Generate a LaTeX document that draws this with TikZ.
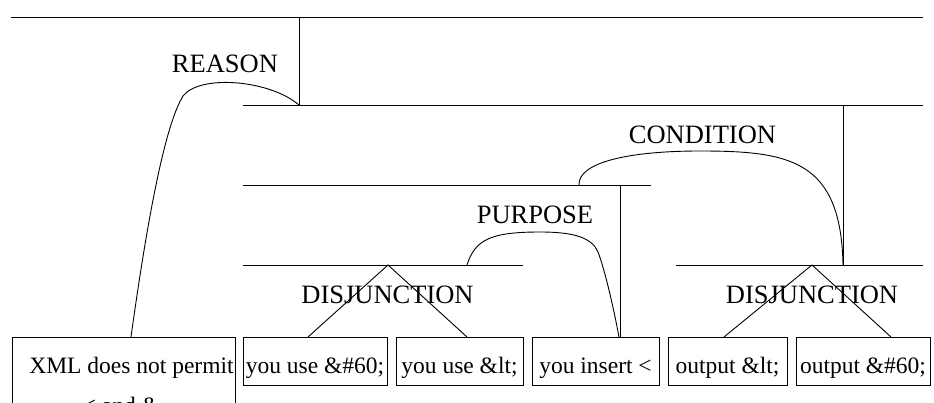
\documentclass[tikz,border=0pt]{standalone}
\usepackage{fontspec}
\setmainfont{Liberation Serif}
\begin{document}
\begin{tikzpicture}[x=1pt, y=-1pt, line width=0.9pt,
  segbox/.style={draw, line width=0.9pt, inner sep=0pt, minimum height=48pt,
    text height=36pt, text depth=12pt, font=\fontsize{23.5}{27}\selectfont},
  segtext/.style={anchor=base, inner sep=0pt, font=\fontsize{23.5}{27}\selectfont},
  rel/.style={anchor=base, inner sep=0pt, font=\fontsize{26.5}{30}\selectfont},
  span/.style={line width=0.9pt},
  arc/.style={line width=0.9pt}]
\useasboundingbox (0,0) rectangle (934,403);
\clip (0,0) rectangle (934,403);

% elementary segments
\node[draw, line width=0.9pt, inner sep=0pt, minimum width=223pt, minimum height=100pt,
      anchor=north west] (xml) at (12,337) {};
\node[segtext] (xmlA) at (131.5,373) {XML does not permit};
\node[segtext] (xmlB) at (121.5,413) {< and \&};
\node[segbox, minimum width=144pt] (b1) at (315,361)   {you use \&\#60;};
\node[segbox, minimum width=127pt] (b2) at (459.5,361) {you use \&lt;};
\node[segbox, minimum width=127pt] (b3) at (595.5,361) {you insert <};
\node[segbox, minimum width=119pt] (b4) at (727.5,361) {output \&lt;};
\node[segbox, minimum width=134pt] (b5) at (863,361)   {output \&\#60;};

% span bars
\coordinate (s0a) at (11,17);   \coordinate (s0b) at (923,17);
\coordinate (s1a) at (243,105); \coordinate (s1b) at (923,105);
\coordinate (s2a) at (243,185); \coordinate (s2b) at (651,185);
\coordinate (s3a) at (243,265); \coordinate (s3b) at (523,265);
\coordinate (s4a) at (676,265); \coordinate (s4b) at (923,265);
\draw[span] (s0a) -- (s0b);
\draw[span] (s1a) -- (s1b);
\draw[span] (s2a) -- (s2b);
\draw[span] (s3a) -- (s3b);
\draw[span] (s4a) -- (s4b);

% nucleus links
\coordinate (n0) at (299,17);  \coordinate (n0e) at (299,105);
\coordinate (n1) at (843,105); \coordinate (n1e) at (843,265);
\coordinate (n2) at (620,185); \coordinate (n2e) at (620,337);
\draw[span] (n0) -- (n0e);
\draw[span] (n1) -- (n1e);
\draw[span] (n2) -- (n2e);

% multinuclear fans
\coordinate (d1) at (388,265); \coordinate (d1l) at (308,337); \coordinate (d1r) at (467,337);
\coordinate (d2) at (812,265); \coordinate (d2l) at (724,337); \coordinate (d2r) at (891,337);
\draw[span] (d1l) -- (d1) -- (d1r);
\draw[span] (d2l) -- (d2) -- (d2r);

% satellite arcs
\coordinate (rs) at (131,337);
\draw[arc] (n0e) .. controls (270,80) and (200,74) .. (183,96)
           .. controls (167,122) and (150,200) .. (rs);
\coordinate (ps) at (467,265); \coordinate (pe) at (619,337);
\draw[arc] (ps) .. controls (475,240) and (490,232) .. (540,232)
           .. controls (575,232) and (592,238) .. (598,252)
           .. controls (605,270) and (614,310) .. (pe);
\coordinate (cs) at (579,185);
\draw[arc] (cs) .. controls (578,162) and (630,151) .. (700,151)
           .. controls (790,151) and (841,160) .. (n1e);

% relation labels
\node[rel] (lr) at (225,73)    {REASON};
\node[rel] (lc) at (702.5,144) {CONDITION};
\node[rel] (lp) at (535,224)   {PURPOSE};
\node[rel] (l1) at (387.5,304) {DISJUNCTION};
\node[rel] (l2) at (812,304)   {DISJUNCTION};
\end{tikzpicture}
\end{document}
